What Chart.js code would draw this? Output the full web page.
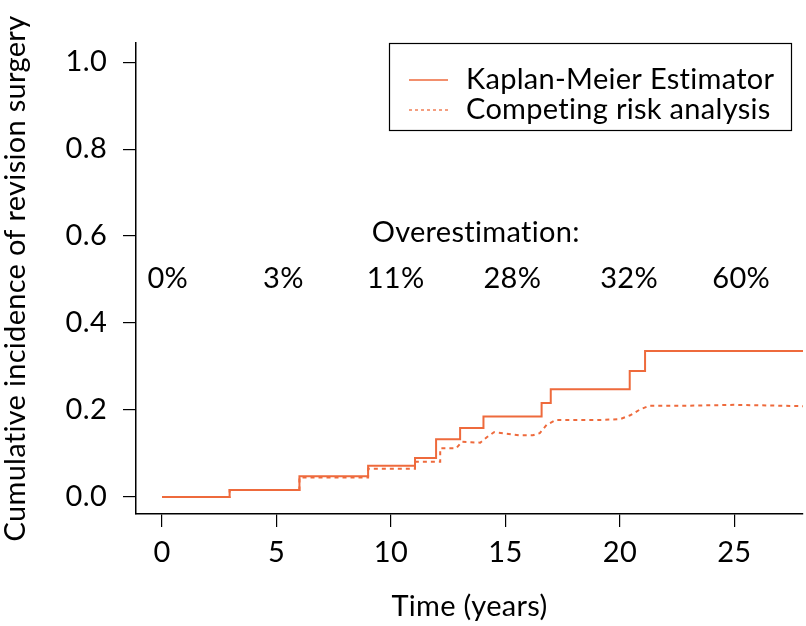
<!DOCTYPE html>
<html>
<head>
<meta charset="utf-8">
<script src="https://cdn.jsdelivr.net/npm/chart.js@4/dist/chart.umd.min.js"></script>
<style>
  html, body { margin: 0; padding: 0; background: #ffffff; }
  canvas { display: block; }
</style>
</head>
<body>
<canvas id="c" width="806" height="626"></canvas>
<script>
// ---- data ----
const kmTimes  = [0, 2.95, 6.0, 9.0, 11.05, 11.97, 13.02, 14.04, 16.58, 16.98, 20.43, 21.1, 28.0];
const kmValues = [0, 0.016, 0.048, 0.072, 0.090, 0.133, 0.159, 0.185, 0.216, 0.248, 0.290, 0.336, 0.336];

const crTimes  = [0, 2.95, 2.95, 6.0, 6.0, 9.0, 9.0, 11.05, 11.05, 12.15, 12.15, 12.85, 13.1, 13.5, 13.9, 14.2, 14.5, 15.0, 15.6, 16.2, 16.5, 16.8, 17.2, 17.8, 19.0, 20.0, 20.45, 20.9, 21.3, 23.0, 25.0, 28.0];
const crValues = [0, 0, 0.016, 0.016, 0.045, 0.045, 0.065, 0.065, 0.081, 0.081, 0.112, 0.112, 0.127, 0.126, 0.125, 0.138, 0.149, 0.146, 0.142, 0.142, 0.147, 0.166, 0.177, 0.177, 0.177, 0.179, 0.188, 0.202, 0.210, 0.210, 0.212, 0.209];

const seriesNames = ['Kaplan-Meier Estimator', 'Competing risk analysis'];

const xTicks = [0, 5, 10, 15, 20, 25];
const yTicks = [0, 0.2, 0.4, 0.6, 0.8, 1.0];

const overLabel = 'Overestimation:';
const overLabelPos = [13.7, 0.609];
const overTexts = ['0%', '3%', '11%', '28%', '32%', '60%'];
const overX     = [0.25, 5.3, 10.2, 15.3, 20.4, 25.3];
const overY     = 0.503;

// ---- styling ----
const FONT = 'Lato, "Open Sans", sans-serif';
const FS = 29;
const LINE_COLOR = '#EE6A3C';

const toPts = (xs, ys) => xs.map((x, i) => ({ x: x, y: ys[i] }));

const annotPlugin = {
  id: 'annot',
  beforeDraw(chart) {
    // a tiny letter spacing switches off ligatures such as "ti"
    chart.ctx.letterSpacing = '0.3px';
  },
  afterDatasetsDraw(chart) {
    const ctx = chart.ctx;
    const xs = chart.scales.x, ys = chart.scales.y;
    ctx.save();
    ctx.letterSpacing = '0.3px';
    ctx.fillStyle = '#000';
    ctx.font = FS + 'px ' + FONT;
    ctx.textAlign = 'center';
    ctx.textBaseline = 'middle';
    ctx.fillText(overLabel, xs.getPixelForValue(overLabelPos[0]), ys.getPixelForValue(overLabelPos[1]));
    overTexts.forEach((t, i) => {
      ctx.fillText(t, xs.getPixelForValue(overX[i]), ys.getPixelForValue(overY));
    });
    // legend box
    const bx = 389, by = 43, bw = 402, bh = 87;
    ctx.fillStyle = '#fff';
    ctx.fillRect(bx, by, bw, bh);
    ctx.strokeStyle = '#000';
    ctx.lineWidth = 1.2;
    ctx.strokeRect(bx + 0.5, by + 0.5, bw, bh);
    chart.data.datasets.forEach((ds, i) => {
      const ly = 80 + i * 30;
      ctx.beginPath();
      ctx.strokeStyle = ds.borderColor;
      ctx.lineWidth = 1.3;
      ctx.setLineDash(ds.borderDash ? [3, 3] : []);
      ctx.moveTo(409, ly);
      ctx.lineTo(448, ly);
      ctx.stroke();
      ctx.setLineDash([]);
      ctx.fillStyle = '#000';
      ctx.textAlign = 'left';
      ctx.fillText(ds.label, 466, ly);
    });
    ctx.restore();
  }
};

new Chart(document.getElementById('c'), {
  type: 'line',
  data: {
    datasets: [
      {
        label: seriesNames[0],
        data: toPts(kmTimes, kmValues),
        borderColor: LINE_COLOR,
        borderWidth: 2,
        stepped: 'before',
        pointRadius: 0,
        fill: false
      },
      {
        label: seriesNames[1],
        data: toPts(crTimes, crValues),
        borderColor: LINE_COLOR,
        borderWidth: 2,
        borderDash: [4, 4],
        tension: 0,
        pointRadius: 0,
        fill: false
      }
    ]
  },
  options: {
    responsive: false,
    animation: false,
    layout: { padding: { top: 43, right: 3, left: 0, bottom: 0 } },
    plugins: { legend: { display: false }, tooltip: { enabled: false } },
    scales: {
      x: {
        type: 'linear',
        min: -1.14,
        max: 28.0,
        afterBuildTicks: s => { s.ticks = xTicks.map(v => ({ value: v })); },
        afterFit: s => { s.height = 112; },
        grid: { display: true, drawOnChartArea: false, drawTicks: true, tickLength: 13, color: '#000', lineWidth: 1.2 },
        border: { display: true, color: '#000', width: 1.5 },
        ticks: { color: '#000', font: { family: FONT, size: FS }, padding: 8, maxRotation: 0, autoSkip: false,
                 callback: v => String(v) },
        title: { display: true, text: 'Time (years)', color: '#000', font: { family: FONT, size: FS }, padding: { top: 0, bottom: 2 } }
      },
      y: {
        type: 'linear',
        min: -0.039,
        max: 1.044,
        afterBuildTicks: s => { s.ticks = yTicks.map(v => ({ value: v })); },
        afterFit: s => { s.width = 136; },
        grid: { display: true, drawOnChartArea: false, drawTicks: true, tickLength: 13, color: '#000', lineWidth: 1.2 },
        border: { display: true, color: '#000', width: 1.5 },
        ticks: { color: '#000', font: { family: FONT, size: FS }, padding: 16, autoSkip: false,
                 callback: v => v.toFixed(1) },
        title: { display: true, text: 'Cumulative incidence of revision surgery', color: '#000', font: { family: FONT, size: FS }, padding: { top: -2, bottom: 0 } }
      }
    }
  },
  plugins: [annotPlugin]
});
</script>
</body>
</html>
